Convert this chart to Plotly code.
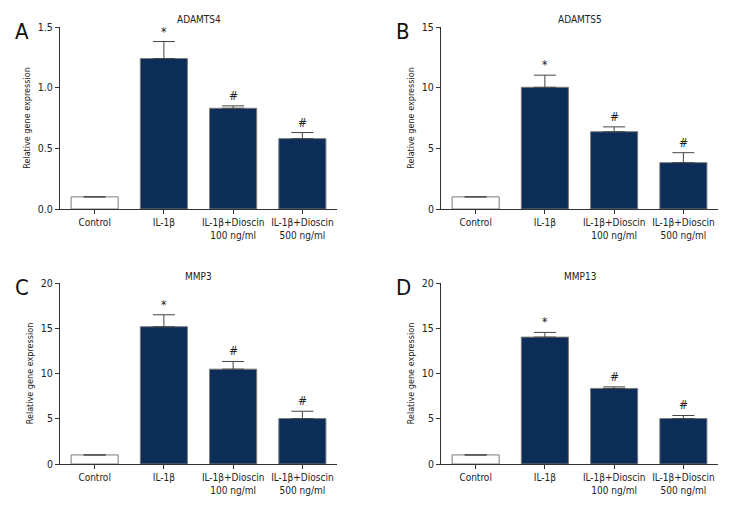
import plotly.graph_objects as go

categories = ["Control", "IL-1β", "IL-1β+Dioscin<br>100 ng/ml", "IL-1β+Dioscin<br>500 ng/ml"]
panel_letters = ["A", "B", "C", "D"]
titles = ["ADAMTS4", "ADAMTS5", "MMP3", "MMP13"]

adamts4_vals = [0.10, 1.24, 0.83, 0.58]
adamts4_err = [0.0, 0.14, 0.02, 0.05]
adamts5_vals = [1.0, 10.03, 6.37, 3.82]
adamts5_err = [0.0, 1.0, 0.40, 0.82]
mmp3_vals = [1.0, 15.17, 10.48, 5.02]
mmp3_err = [0.0, 1.32, 0.85, 0.81]
mmp13_vals = [1.0, 14.02, 8.35, 5.02]
mmp13_err = [0.0, 0.52, 0.17, 0.34]

marks = ["", "*", "#", "#"]

y_ranges = [[0, 1.5], [0, 15], [0, 20], [0, 20]]
y_dtick = [0.5, 5, 5, 5]
y_fmt = [".1f", "d", "d", "d"]

values = [adamts4_vals, adamts5_vals, mmp3_vals, mmp13_vals]
errors = [adamts4_err, adamts5_err, mmp3_err, mmp13_err]

# page body has an 8px margin; figure sized to fit the 732x516 window exactly
OFF = 8
W, H = 732 - OFF, 516 - OFF
x_doms = [(60, 337), (441, 718), (60, 337), (441, 718)]
y_doms = [(27, 209), (27, 209), (283, 464), (283, 464)]

FONT = "DejaVu Sans Condensed"
NAVY = "#0b2d57"
AX = "#333333"
TXT = "#222222"


def f(size, color=TXT):
    return dict(family=FONT, size=size, color=color)


def px(x):
    return (x - OFF) / W


def py(y):
    return 1 - (y - OFF) / H


fig = go.Figure()
layout = dict(
    width=W, height=H, margin=dict(l=0, r=0, t=0, b=0, autoexpand=False),
    paper_bgcolor="white", plot_bgcolor="white",
    showlegend=False, font=f(10),
)
annotations = []

for i in range(4):
    xa = "x" if i == 0 else f"x{i+1}"
    ya = "y" if i == 0 else f"y{i+1}"
    xkey = "xaxis" if i == 0 else f"xaxis{i+1}"
    ykey = "yaxis" if i == 0 else f"yaxis{i+1}"
    colors = ["white"] + [NAVY] * 3
    fig.add_trace(go.Bar(
        x=list(range(4)), y=values[i], xaxis=xa, yaxis=ya,
        width=0.68,
        marker=dict(color=colors, line=dict(color="#7a7a7a", width=1)),
        error_y=dict(type="data", array=errors[i], arrayminus=[0]*4, symmetric=False,
                     color="#444", thickness=1, width=11, visible=True),
        hoverinfo="skip",
    ))
    x0, x1 = x_doms[i]
    yt, yb = y_doms[i]
    layout[xkey] = dict(
        domain=[px(x0), px(x1)], anchor=ya, range=[-0.5, 3.5],
        tickmode="array", tickvals=list(range(4)), ticktext=categories,
        tickangle=0, automargin=False,
        showline=True, linecolor=AX, linewidth=1,
        ticks="outside", ticklen=4, tickcolor=AX, showgrid=False, zeroline=False,
        tickfont=f(10), fixedrange=True,
    )
    layout[ykey] = dict(
        domain=[py(yb), py(yt)], anchor=xa, range=y_ranges[i],
        dtick=y_dtick[i], tickformat=y_fmt[i], automargin=False,
        showline=True, linecolor=AX, linewidth=1,
        ticks="outside", ticklen=4, tickcolor=AX, showgrid=False, zeroline=False,
        tickfont=f(10.5),
        title=dict(text="Relative gene expression", font=f(9), standoff=5),
        fixedrange=True,
    )
    for j in range(4):
        if marks[j]:
            annotations.append(dict(
                x=j, y=values[i][j] + errors[i][j], xref=xa, yref=ya,
                text=marks[j], showarrow=False, yanchor="bottom", yshift=1,
                font=f(12),
            ))
    annotations.append(dict(
        x=px((x0 + x1) / 2), y=py(yt - 7), xref="paper", yref="paper",
        text=titles[i], showarrow=False, xanchor="center", yanchor="middle",
        font=f(10),
    ))
    annotations.append(dict(
        x=px(x0 - 47), y=py(yt - 10), xref="paper", yref="paper",
        text=panel_letters[i], showarrow=False, xanchor="left", yanchor="top",
        font=f(22, "#111"),
    ))

layout["annotations"] = annotations
fig.update_layout(**layout)
fig.write_html("out.html")
